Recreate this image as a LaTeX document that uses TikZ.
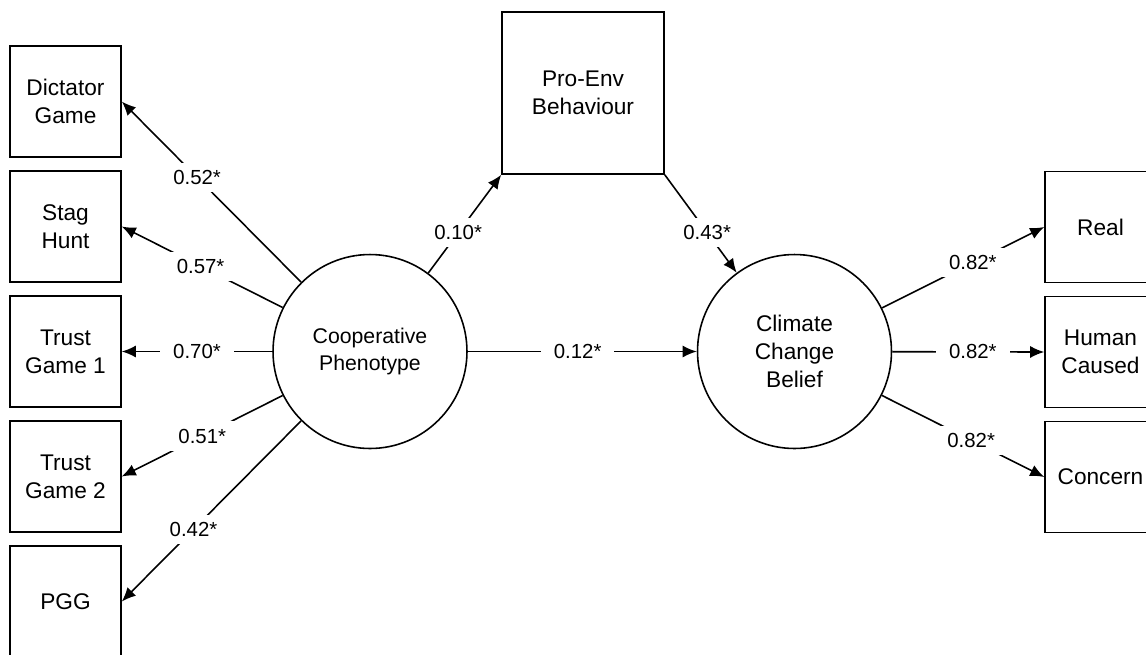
\documentclass[tikz,border=0pt]{standalone}
\usepackage{fontspec}
\setmainfont{Liberation Sans}
\usepackage{tikz}
\usetikzlibrary{arrows.meta, positioning}

\tikzset{
    obs/.style = {draw, line width=0.9pt, minimum size=2.22cm, align=center,
                  inner sep=0pt, font=\fontsize{12.9}{16}\selectfont},
    latent/.style = {draw, circle, line width=0.9pt, minimum size=3.88cm, align=center,
                  inner sep=0pt, font=\fontsize{12.9}{16}\selectfont},
    path/.style = {line width=0.9pt, -{Latex[length=2.8mm, width=2.4mm]}},
    wt/.style = {fill=white, inner xsep=0.26cm, inner ysep=0.15cm,
                  font=\fontsize{11.6}{14}\selectfont}
}

\begin{document}
\begin{tikzpicture}[x=0.02cm, y=-0.02cm]
    \useasboundingbox (0, 0) rectangle (1146, 654);

    % indicators of cooperation
    \node[obs] (dictator) at (65.5, 101.5) {Dictator\\Game};
    \node[obs] (stag) at (65.5, 226.5) {Stag\\Hunt};
    \node[obs] (trustone) at (65.5, 351.5) {Trust\\Game 1};
    \node[obs] (trusttwo) at (65.5, 476.5) {Trust\\Game 2};
    \node[obs] (pgg) at (65.5, 601.5) {PGG};

    % latent variables and mediator
    \node[latent, font=\fontsize{12.1}{15.5}\selectfont] (coop) at (370, 351.5) {Cooperative\\Phenotype};
    \node[latent] (climate) at (794.5, 351.5) {Climate\\Change\\Belief};
    \node[obs, minimum size=3.24cm] (proenv) at (583, 93) {Pro-Env\\Behaviour};

    % indicators of belief
    \node[obs] (real) at (1100.5, 227) {Real};
    \node[obs] (human) at (1100.5, 352) {Human\\Caused};
    \node[obs] (concern) at (1100.5, 477) {Concern};

    \draw[path] (coop) -- node[wt, pos=0.58] (wdict) {0.52*} (dictator.east);
    \draw[path] (coop) -- node[wt, pos=0.51] (wstag) {0.57*} (stag.east);
    \draw[path] (coop) -- node[wt, pos=0.5] (wtrone) {0.70*} (trustone.east);
    \draw[path] (coop) -- node[wt, pos=0.5] (wtrtwo) {0.51*} (trusttwo.east);
    \draw[path] (coop) -- node[wt, pos=0.6] (wpgg) {0.42*} (pgg.east);

    \draw[path] (coop) -- node[wt, pos=0.41] (wproenv) {0.10*} (proenv.south west);
    \draw[path] (proenv.south east) -- node[wt, pos=0.59] (wbeh) {0.43*} (climate);
    \draw[path] (coop) -- node[wt, pos=0.48] (wdirect) {0.12*} (climate);

    \draw[path] (climate) -- node[wt, pos=0.56] (wreal) {0.82*} (real.west);
    \draw[path] (climate) -- node[wt, pos=0.53] (whuman) {0.82*} (human.west);
    \draw[path] (climate) -- node[wt, pos=0.55] (wconcern) {0.82*} (concern.west);
\end{tikzpicture}
\end{document}
